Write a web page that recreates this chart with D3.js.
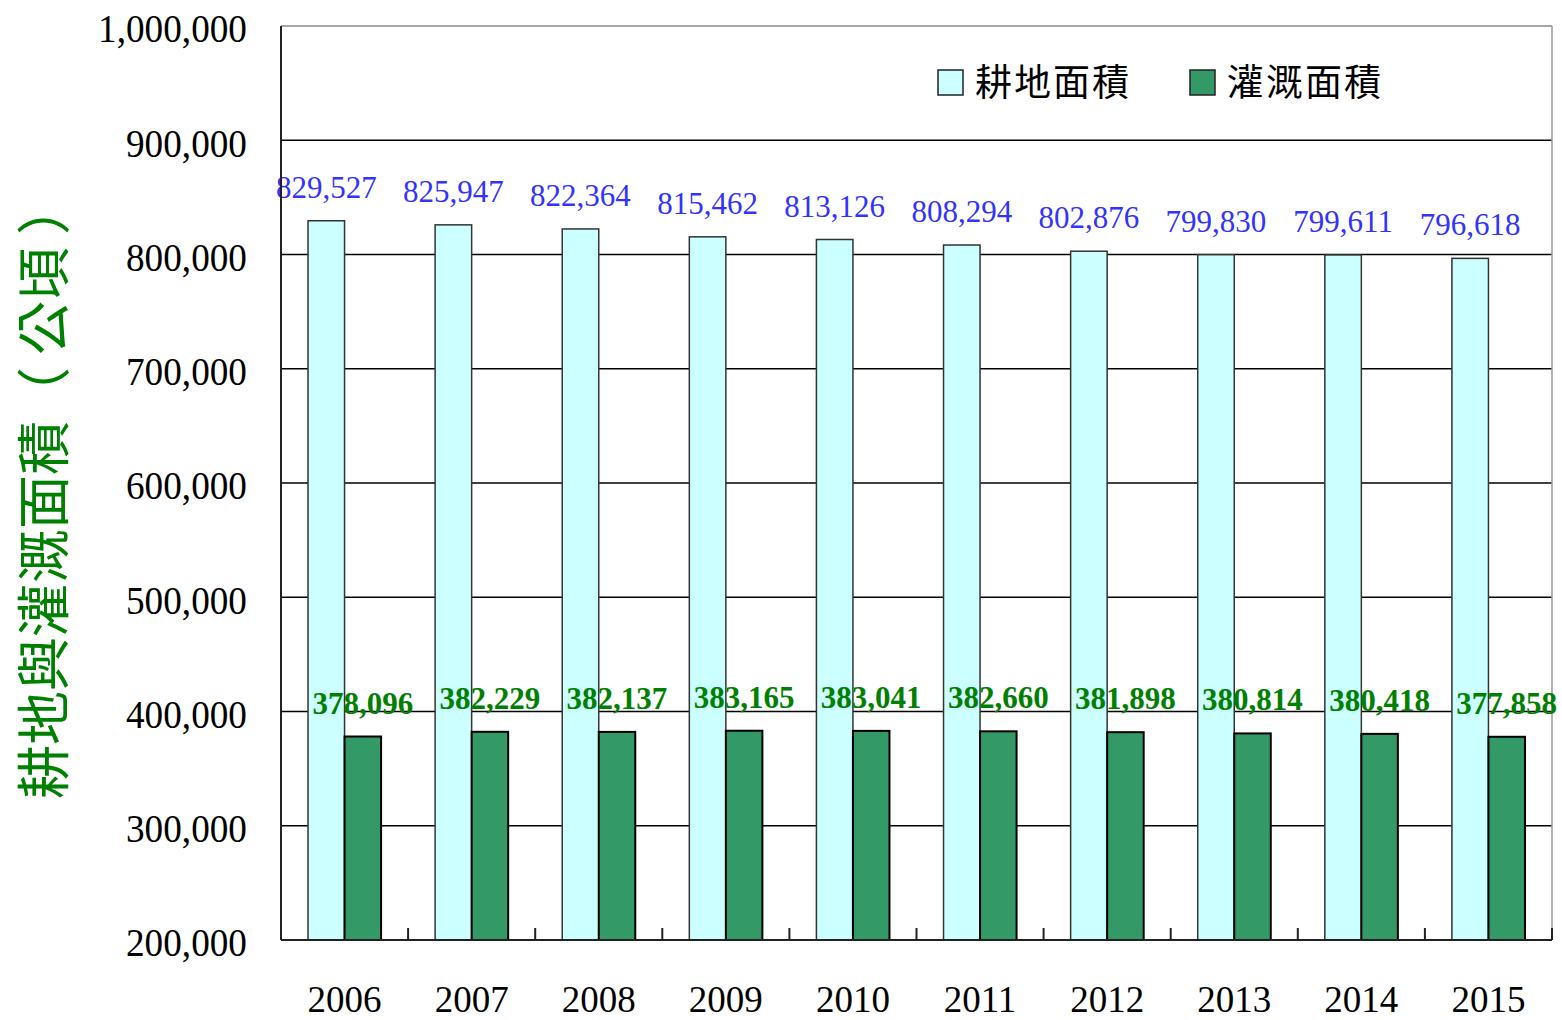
<!DOCTYPE html>
<html>
<head>
<meta charset="utf-8">
<script src="https://cdn.jsdelivr.net/npm/d3@7"></script>
<style>
  body { margin: 0; background: #fff; }
  .tick-label { font-family: "Liberation Serif", "Times New Roman", serif; }
</style>
</head>
<body>
<div id="chart"></div>
<script>
var years = ["2006", "2007", "2008", "2009", "2010", "2011", "2012", "2013", "2014", "2015"];
var seriesNames = ["耕地面積", "灌溉面積"];
var cultivated = [829527, 825947, 822364, 815462, 813126, 808294, 802876, 799830, 799611, 796618];
var irrigated = [378096, 382229, 382137, 383165, 383041, 382660, 381898, 380814, 380418, 377858];
var yTicks = [200000, 300000, 400000, 500000, 600000, 700000, 800000, 900000, 1000000];
var yTitle = "耕地與灌溉面積（ 公頃 ）";

var fills = ["#ccffff", "#339966"];
var strokes = ["#333", "#000"];
var labelColors = ["#3333ff", "#008000"];

var W = 1562, H = 1020;
var plot = {left: 281, right: 1552, top: 26, bottom: 940};

var svg = d3.select("#chart").append("svg")
    .attr("width", W)
    .attr("height", H);

var y = d3.scaleLinear()
    .domain([200000, 1000000])
    .range([plot.bottom, plot.top]);

var x0 = d3.scaleBand()
    .domain(years)
    .range([plot.left, plot.right])
    .padding(0);

var x1 = d3.scaleBand()
    .domain(seriesNames)
    .range([0, x0.bandwidth()])
    .paddingInner(0)
    .paddingOuter(0.74);

var fmt = d3.format(",");

// gridlines
svg.append("g")
  .selectAll("line")
  .data(yTicks.filter(function(d) { return d > 200000 && d < 1000000; }))
  .enter().append("line")
    .attr("x1", plot.left)
    .attr("x2", plot.right)
    .attr("y1", function(d) { return y(d); })
    .attr("y2", function(d) { return y(d); })
    .style("stroke", "#000")
    .style("stroke-width", "1.3px");

// top and right frame
svg.append("line")
    .attr("x1", plot.left).attr("x2", plot.right)
    .attr("y1", y(1000000)).attr("y2", y(1000000))
    .style("stroke", "#888").style("stroke-width", "1.5px");
svg.append("line")
    .attr("x1", plot.right).attr("x2", plot.right)
    .attr("y1", plot.top).attr("y2", plot.bottom)
    .style("stroke", "#999").style("stroke-width", "1.5px");

// y tick labels
svg.append("g")
  .selectAll("text")
  .data(yTicks)
  .enter().append("text")
    .attr("class", "tick-label")
    .attr("x", 247)
    .attr("y", function(d) { return y(d); })
    .attr("dy", "0.42em")
    .attr("text-anchor", "end")
    .style("font-size", "39px")
    .style("fill", "#000")
    .attr("transform", function(d) {
        return "translate(247," + y(d) + ") scale(0.955,1) translate(-247," + (-y(d)) + ")";
    })
    .text(function(d) { return fmt(d); });

// bars
var groups = svg.append("g")
  .selectAll("g")
  .data(years)
  .enter().append("g")
    .attr("transform", function(d) { return "translate(" + x0(d) + ",0)"; });

var values = [cultivated, irrigated];

groups.selectAll("rect")
  .data(function(d, i) {
      return seriesNames.map(function(s, j) { return {series: s, idx: j, value: values[j][i]}; });
  })
  .enter().append("rect")
    .attr("x", function(d) { return x1(d.series); })
    .attr("y", function(d) { return y(d.value); })
    .attr("width", x1.bandwidth())
    .attr("height", function(d) { return plot.bottom - y(d.value); })
    .style("fill", function(d) { return fills[d.idx]; })
    .style("stroke", function(d) { return strokes[d.idx]; })
    .style("stroke-width", function(d) { return d.idx === 0 ? "1.5px" : "2px"; });

// value labels
groups.selectAll("text.value")
  .data(function(d, i) {
      return seriesNames.map(function(s, j) { return {series: s, idx: j, value: values[j][i]}; });
  })
  .enter().append("text")
    .attr("class", "value tick-label")
    .attr("x", function(d) { return x1(d.series) + x1.bandwidth() / 2; })
    .attr("y", function(d) { return y(d.value) - 23; })
    .attr("text-anchor", "middle")
    .style("font-size", "31px")
    .style("font-weight", function(d) { return d.idx === 1 ? "bold" : "normal"; })
    .style("fill", function(d) { return labelColors[d.idx]; })
    .text(function(d) { return fmt(d.value); });

// axes lines
svg.append("line")
    .attr("x1", plot.left).attr("x2", plot.left)
    .attr("y1", plot.top).attr("y2", plot.bottom)
    .style("stroke", "#222").style("stroke-width", "2px");
svg.append("line")
    .attr("x1", plot.left).attr("x2", plot.right)
    .attr("y1", plot.bottom).attr("y2", plot.bottom)
    .style("stroke", "#222").style("stroke-width", "2px");

// x ticks at band boundaries
var tickXs = years.map(function(d) { return x0(d); }).concat([plot.right]);
svg.append("g")
  .selectAll("line")
  .data(tickXs.slice(1))
  .enter().append("line")
    .attr("x1", function(d) { return d; })
    .attr("x2", function(d) { return d; })
    .attr("y1", plot.bottom - 12)
    .attr("y2", plot.bottom)
    .style("stroke", "#222")
    .style("stroke-width", "2px");

// x labels
svg.append("g")
  .selectAll("text")
  .data(years)
  .enter().append("text")
    .attr("class", "tick-label")
    .attr("x", function(d) { return x0(d) + x0.bandwidth() / 2; })
    .attr("y", plot.bottom + 72)
    .attr("text-anchor", "middle")
    .style("font-size", "37px")
    .style("fill", "#000")
    .text(function(d) { return d; });

// y title
svg.append("text")
    .attr("transform", "translate(64,490) rotate(-90)")
    .attr("text-anchor", "middle")
    .style("font-family", "'Noto Sans CJK TC', 'Noto Sans CJK SC', sans-serif")
    .style("font-size", "54px")
    .style("fill", "#008000")
    .text(yTitle);

// legend
var legendX = [938, 1190];
var legend = svg.append("g")
  .selectAll("g")
  .data(seriesNames)
  .enter().append("g")
    .attr("transform", function(d, i) { return "translate(" + legendX[i] + ",70)"; });

legend.append("rect")
    .attr("width", 25)
    .attr("height", 25)
    .style("fill", function(d, i) { return fills[i]; })
    .style("stroke", "#222")
    .style("stroke-width", "1.5px");

legend.append("text")
    .attr("x", 37)
    .attr("y", 13)
    .attr("dy", "0.36em")
    .style("font-family", "'Noto Sans CJK TC', 'Noto Sans CJK SC', sans-serif")
    .style("font-size", "37px")
    .style("letter-spacing", "2px")
    .style("fill", "#000")
    .text(function(d) { return d; });
</script>
</body>
</html>
